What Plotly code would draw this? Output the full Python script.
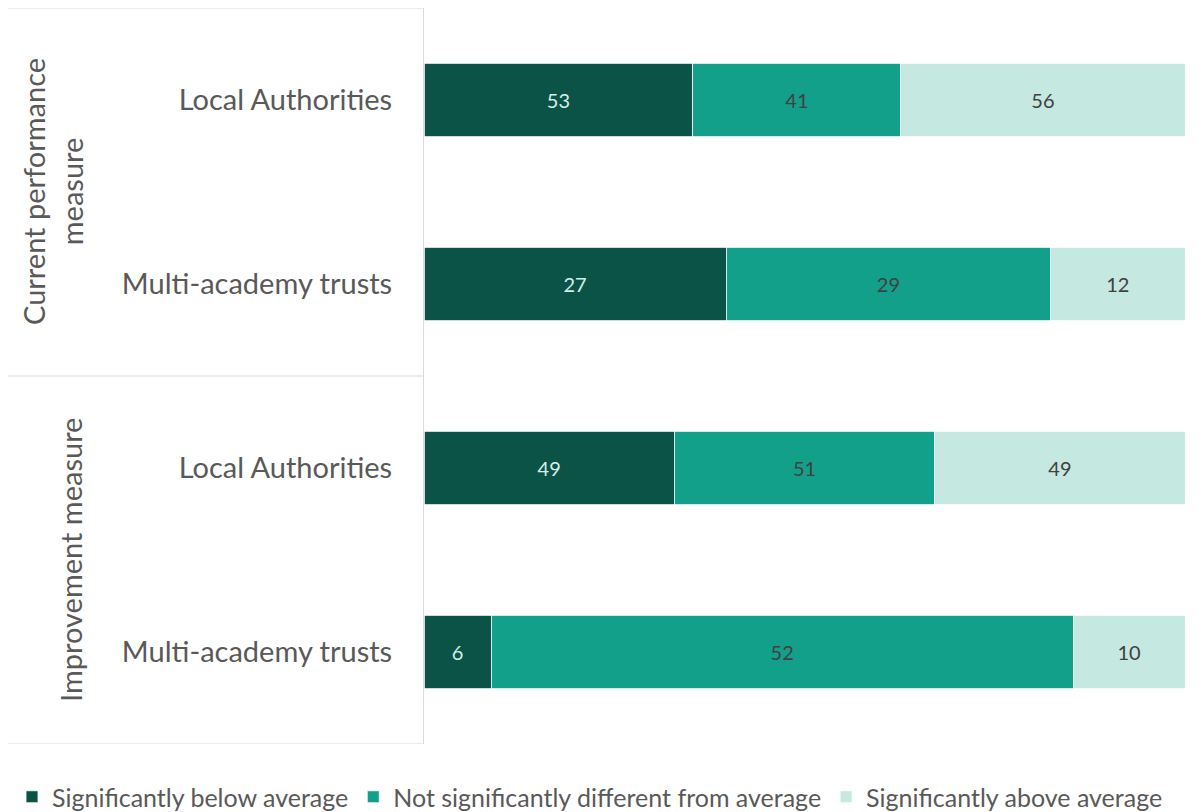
import plotly.graph_objects as go

categories = ["Local Authorities", "Multi-academy trusts", "Local Authorities", "Multi-academy trusts"]
groups = ["Current performance<br>measure", "Improvement measure"]
series_names = ["Significantly below average", "Not significantly different from average", "Significantly above average"]
below = [53, 27, 49, 6]
not_diff = [41, 29, 51, 52]
above = [56, 12, 49, 10]

colors = ["#0B5247", "#13A08A", "#C5E8E1"]
text_colors = ["#D4EEE9", "#404040", "#404040"]

FONT = "Lato"
OFF = 8  # page body margin
W, H = 1203 - OFF, 812 - OFF
ML, MT = 424 - OFF, 8 - OFF
PR, PB = 1185 - OFF, 744 - OFF
MR, MB = W - PR, H - PB
pw, ph = PR - ML, PB - MT

ypos = list(range(len(categories)))

fig = go.Figure()
for name, vals, c, tc in zip(series_names, [below, not_diff, above], colors, text_colors):
    fig.add_trace(go.Bar(
        y=ypos, x=vals, orientation="h", name=name,
        marker=dict(color=c, line=dict(color="white", width=0.8)),
        text=[str(v) for v in vals], textposition="inside", insidetextanchor="middle",
        textfont=dict(family=FONT, size=20, color=tc),
        constraintext="none",
    ))

fig.update_layout(
    width=W, height=H,
    margin=dict(l=ML, r=MR, t=MT, b=MB, autoexpand=False),
    barmode="stack", barnorm="fraction", bargap=0.6,
    plot_bgcolor="white", paper_bgcolor="white",
    font=dict(family=FONT, color="#595959"),
    xaxis=dict(range=[0, 1], visible=False, fixedrange=True),
    yaxis=dict(
        tickvals=ypos, ticktext=categories, autorange=False, range=[3.5, -0.5],
        tickfont=dict(family=FONT, size=29, color="#595959"),
        showline=True, linecolor="#D9D9D9", linewidth=1, ticks="", ticklabelstandoff=25,
        showgrid=False, zeroline=False, automargin=False,
    ),
    legend=dict(orientation="h",
                x=(12 - OFF - ML) / pw, xanchor="left",
                y=-(797 - 744) / ph, yanchor="middle",
                font=dict(family=FONT, size=25, color="#595959"),
                itemwidth=30, tracegroupgap=0, traceorder="normal"),
    showlegend=True,
)

left_edge = (8 - OFF - ML) / pw
for yb in [-0.5, 1.5, 3.5]:
    fig.add_shape(type="line", xref="paper", yref="y", x0=left_edge, x1=0, y0=yb, y1=yb,
                  line=dict(color="#D9D9D9", width=1))

group_x = [(52 - OFF - ML) / pw, (70 - OFF - ML) / pw]
for g, yc, gx in zip(groups, [0.5, 2.5], group_x):
    fig.add_annotation(xref="paper", yref="y", x=gx, y=yc, text=g, textangle=-90,
                       showarrow=False, font=dict(family=FONT, size=29, color="#595959"),
                       xanchor="center", yanchor="middle")

fig.write_html("out.html")
